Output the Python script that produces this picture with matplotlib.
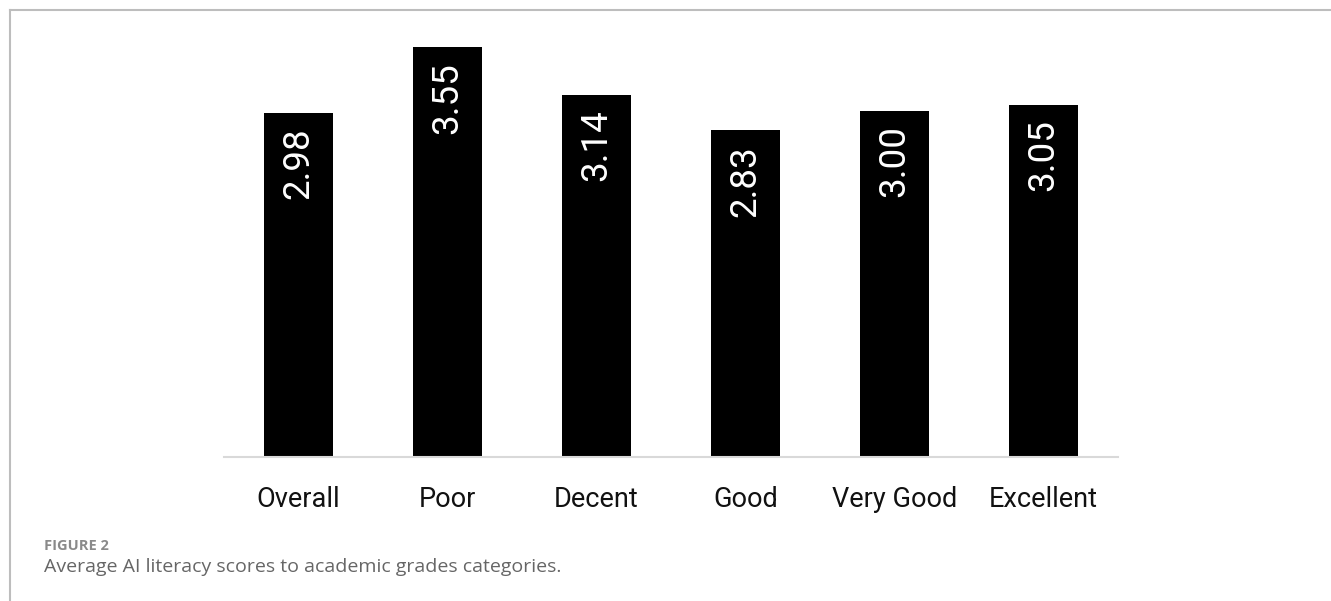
import matplotlib
matplotlib.use("Agg")
import matplotlib.pyplot as plt
from matplotlib.lines import Line2D

categories = ["Overall", "Poor", "Decent", "Good", "Very Good", "Excellent"]
scores = [2.98, 3.55, 3.14, 2.83, 3.00, 3.05]
value_labels = ["2.98", "3.55", "3.14", "2.83", "3.00", "3.05"]

W, H = 1331, 601
fig = plt.figure(figsize=(W / 100, H / 100), dpi=100)
fig.patch.set_facecolor("white")

# frame lines (top and left)
fig.add_artist(Line2D([9.5 / W, 1.0], [1 - 10 / H, 1 - 10 / H], color="#bdbdbd", lw=1.5))
fig.add_artist(Line2D([9.5 / W, 9.5 / W], [0.0, 1 - 10 / H], color="#bdbdbd", lw=1.5))

left, right = 224, 1118
base, top = 457, 30
ax = fig.add_axes([left / W, (H - base) / H, (right - left) / W, (base - top) / H])
x = list(range(len(categories)))
ax.bar(x, scores, width=0.457, color="black")
ax.set_xlim(-0.5, len(categories) - 0.5)
ax.set_ylim(0, (base - top) / 115.4)
for s in ["top", "right", "left"]:
    ax.spines[s].set_visible(False)
ax.spines["bottom"].set_color("#d9d9d9")
ax.spines["bottom"].set_linewidth(1.5)
ax.set_yticks([])
ax.set_xticks(x)
ax.set_xticklabels(categories, fontsize=19.5, family=["Liberation Sans Narrow", "Roboto", "DejaVu Sans"], color="#111111")
ax.tick_params(axis="x", length=0, pad=21)

for xi, v, lab in zip(x, scores, value_labels):
    ax.annotate(lab, (xi, v), xytext=(0, -10.5), textcoords="offset points",
                rotation=90, ha="center", va="top", color="white",
                fontsize=26.5, family="Roboto")

fig.text(44 / W, 1 - 546 / H, "FIGURE 2", fontsize=10.5, fontweight="bold",
         color="#8a8a8a", family="Open Sans", va="center")
fig.text(44 / W, 1 - 567 / H, "Average AI literacy scores to academic grades categories.",
         fontsize=14, color="#666666", family="Open Sans", va="center")

fig.savefig("out.png", dpi=100)
